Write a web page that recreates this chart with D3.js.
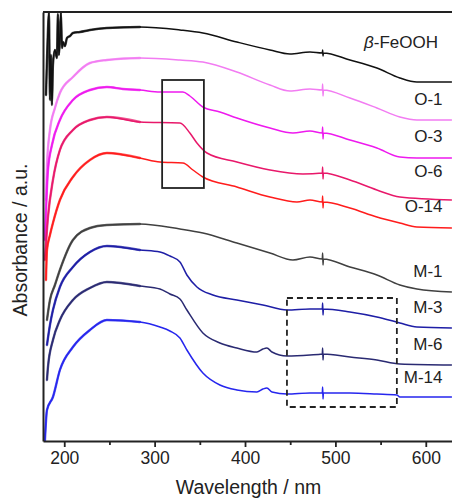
<!DOCTYPE html>
<html><head><meta charset="utf-8">
<script src="https://cdn.jsdelivr.net/npm/d3@7"></script>
<style>
html,body{margin:0;padding:0;background:#fff;}
svg{display:block;font-family:"Liberation Sans",Arial,sans-serif;}
</style></head>
<body>
<svg id="c" width="452" height="501"></svg>
<script>
// ---- data: [wavelength nm, absorbance a.u. (offset, arbitrary units)] ----
const feooh = [[179.8,346],[180.9,381],[182.0,411],[183.1,429],[184.2,341],[185.3,386],[186.4,336],[187.5,376],[189.7,391],[191.9,383],[193.0,427],[194.1,386],[195.2,401],[196.3,429],[197.5,393],[198.6,399],[200.8,395],[203.0,403],[206.3,405],[209.6,408],[217.4,409],[228.4,411],[247.2,413],[283.7,414],[328.0,411],[353.4,408],[391.0,399],[427.6,391],[449.7,387],[471.9,389],[485.5,388],[485.9,391],[486.3,385],[486.7,388],[516.1,381],[545.9,373],[571.3,363],[590.2,359],[628.9,359]];
const o1 = [[179.8,241],[180.9,276],[184.2,311],[189.7,333],[195.2,348],[209.6,364],[228.4,378],[247.2,381],[283.7,383],[328.0,381],[353.4,379],[391.0,369],[427.6,356],[449.7,350],[471.9,352],[485.5,351],[485.9,357],[486.3,345],[486.7,351],[516.1,343],[545.9,333],[571.3,324],[590.2,321],[628.9,321]];
const o3 = [[178.6,201],[182.0,271],[186.4,296],[195.2,321],[209.6,341],[228.4,351],[247.2,354],[264.9,352],[283.7,351],[305.9,349],[331.3,349],[339.0,345],[353.4,334],[372.2,329],[391.0,323],[427.6,313],[453.0,308],[471.9,310],[485.5,308],[485.9,314],[486.3,302],[486.7,308],[516.1,301],[545.9,293],[571.3,284],[590.2,283],[628.9,283]];
const o6 = [[178.6,181],[182.0,224],[187.5,261],[195.2,291],[209.6,311],[228.4,321],[247.2,324],[283.7,319],[328.0,318],[339.0,308],[346.8,298],[357.9,288],[391.0,279],[427.6,271],[464.1,267],[485.5,268],[485.9,274],[486.3,262],[486.7,268],[516.1,261],[545.9,251],[571.3,244],[628.9,241]];
const o14 = [[179.8,161],[180.9,191],[184.2,206],[187.5,218],[195.2,241],[209.6,264],[228.4,281],[247.2,288],[283.7,283],[305.9,279],[331.3,278],[342.4,271],[353.4,264],[391.0,254],[427.6,244],[457.5,239],[471.9,241],[485.5,239],[485.9,245],[486.3,233],[486.7,239],[516.1,233],[545.9,224],[571.3,218],[590.2,214],[628.9,213]];
const m1 = [[180.9,121],[184.2,141],[189.7,156],[195.2,171],[209.6,201],[228.4,213],[247.2,216],[283.7,217],[328.0,212],[353.4,208],[391.0,198],[427.6,188],[453.0,181],[471.9,184],[485.5,182],[485.9,188],[486.3,176],[486.7,182],[516.1,174],[545.9,166],[571.3,156],[590.2,152],[628.9,149]];
const m3 = [[180.9,96],[184.2,116],[187.5,131],[195.2,154],[209.6,174],[228.4,189],[247.2,195],[283.7,191],[305.9,189],[316.9,185],[328.0,179],[335.7,166],[346.8,154],[364.5,146],[391.0,141],[419.8,136],[446.4,131],[471.9,132],[485.5,132],[485.9,138],[486.3,126],[486.7,132],[516.1,129],[545.9,124],[571.3,118],[590.2,114],[628.9,113]];
const m6 = [[180.9,61],[182.0,74],[187.5,101],[195.2,121],[209.6,141],[228.4,153],[247.2,159],[283.7,155],[305.9,152],[316.9,147],[328.0,142],[335.7,131],[353.4,108],[372.2,98],[391.0,93],[413.2,89],[419.8,92],[424.2,93],[429.8,89],[446.4,85],[471.9,86],[485.5,87],[485.9,93],[486.3,81],[486.7,87],[516.1,84],[545.9,81],[571.3,77],[628.9,76]];
const m14 = [[178.6,0],[180.9,31],[187.5,44],[195.2,71],[209.6,94],[228.4,111],[247.2,121],[283.7,119],[305.9,114],[316.9,110],[328.0,103],[335.7,91],[353.4,68],[372.2,56],[391.0,51],[413.2,49],[419.8,52],[424.2,53],[429.8,49],[446.4,47],[471.9,48],[485.5,48],[485.9,54],[486.3,42],[486.7,48],[516.1,48],[545.9,47],[568.0,46],[571.3,44],[628.9,44]];

const seriesNames = ["β-FeOOH","O-1","O-3","O-6","O-14","M-1","M-3","M-6","M-14"];
const seriesData = [feooh,o1,o3,o6,o14,m1,m3,m6,m14];
const seriesColors = ["#111111","#f27cf2","#ee1aee","#e8186a","#ff1c1c","#404040","#1e1ea6","#2a2a72","#2626ee"];
// label anchor: [wavelength, absorbance] of label baseline (right-aligned)
const labelPos = [[613.5,393],[618.5,336],[618.5,299],[618.5,264],[618.5,229],[618.5,164],[618.5,128],[618.5,91],[618.5,58]];

const xTicks = [200,300,400,500,600];
const xMinor = [250,350,450,550];
// annotation boxes: [λ0, λ1, a0, a1]
const solidBox = [308.3,354.5,253,361];
const dashedBox = [446.4,568.0,34,143];
// the spectra are noisy below this wavelength
const noisyBelow = 300;

// ---- chart ----
const L=43,R=452,T=12,B=441;
const svg=d3.select("#c");
const x=d3.scaleLinear().domain([176.5,629]).range([L,R]);
const y=d3.scaleLinear().domain([0,429]).range([B,T]);

svg.append("defs").append("clipPath").attr("id","clip")
  .append("rect").attr("x",L).attr("y",T).attr("width",R-L).attr("height",B-T);

const line=d3.line().x(d=>x(d[0])).y(d=>y(d[1])).curve(d3.curveMonotoneX);
const g=svg.append("g").attr("clip-path","url(#clip)");
seriesData.forEach((s,i)=>{
  g.append("path").datum(s.filter(d=>d[0]<=noisyBelow)).attr("d",line).attr("fill","none")
   .attr("stroke",seriesColors[i]).attr("stroke-width",2.4).attr("stroke-opacity",0.75)
   .attr("stroke-linejoin","round").attr("stroke-linecap","round");
  g.append("path").datum(s).attr("d",line).attr("fill","none")
   .attr("stroke",seriesColors[i]).attr("stroke-width",1.5).attr("stroke-linejoin","round");
});

// boxes
svg.append("rect").attr("x",x(solidBox[0])).attr("y",y(solidBox[3]))
  .attr("width",x(solidBox[1])-x(solidBox[0])).attr("height",y(solidBox[2])-y(solidBox[3]))
  .attr("fill","none").attr("stroke","#222").attr("stroke-width",1.8);
svg.append("rect").attr("x",x(dashedBox[0])).attr("y",y(dashedBox[3]))
  .attr("width",x(dashedBox[1])-x(dashedBox[0])).attr("height",y(dashedBox[2])-y(dashedBox[3]))
  .attr("fill","none").attr("stroke","#222").attr("stroke-width",1.8).attr("stroke-dasharray","6,4");

// labels
seriesNames.forEach((n,i)=>{
  const t=svg.append("text").attr("x",x(labelPos[i][0])).attr("y",y(labelPos[i][1]))
    .attr("text-anchor","end").attr("font-size",17).attr("fill","#222");
  if(n.startsWith("β")){
    t.append("tspan").attr("font-style","italic").text("β");
    t.append("tspan").text(n.slice(1));
  } else t.text(n);
});

// axes
const xa=svg.append("g").attr("transform",`translate(0,${B})`)
  .call(d3.axisBottom(x).tickValues(xTicks).tickSize(6).tickSizeOuter(0).tickPadding(5));
const xm=svg.append("g").attr("transform",`translate(0,${B})`)
  .call(d3.axisBottom(x).tickValues(xMinor).tickSize(4).tickFormat("").tickSizeOuter(0));
xm.select(".domain").remove();
[xa,xm].forEach(a=>{a.selectAll("line").attr("stroke","#222").attr("stroke-width",1.8);});
xa.select(".domain").attr("stroke","#222").attr("stroke-width",2);
xa.selectAll("text").attr("font-size",17.5).attr("fill","#222").attr("font-family","Liberation Sans, Arial, sans-serif");

const ya=svg.append("g").attr("transform",`translate(${L},0)`)
  .call(d3.axisLeft(y).tickValues([]).tickSizeOuter(0));
ya.select(".domain").attr("stroke","#222").attr("stroke-width",2);
svg.append("line").attr("x1",L).attr("x2",R).attr("y1",T).attr("y2",T)
  .attr("stroke","#222").attr("stroke-width",2);

svg.append("text").attr("x",(172+325)/2).attr("y",494).attr("text-anchor","middle")
  .attr("font-size",19.5).attr("fill","#222").text("Wavelength / nm");
svg.append("text").attr("transform","translate(27,240) rotate(-90)").attr("text-anchor","middle")
  .attr("font-size",19.5).attr("fill","#222").text("Absorbance / a.u.");
</script>
</body></html>
